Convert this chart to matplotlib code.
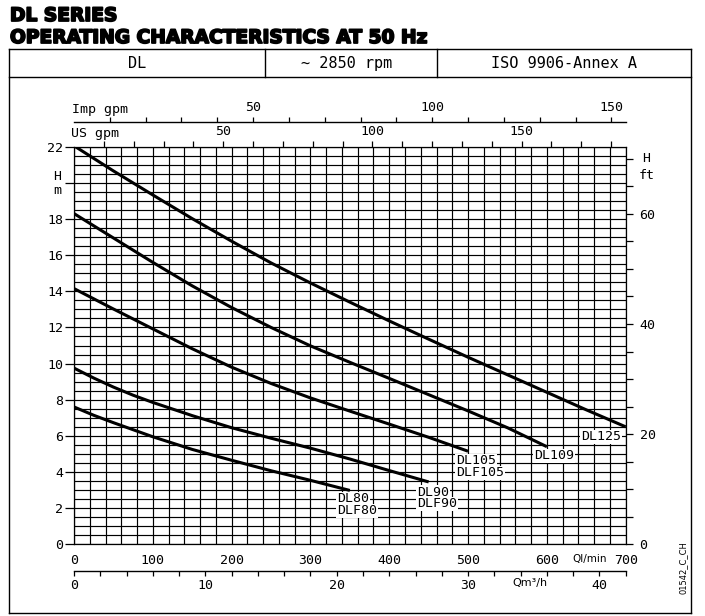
import numpy as np
import matplotlib
matplotlib.use("Agg")
import matplotlib.pyplot as plt
from matplotlib.ticker import FixedLocator, FuncFormatter
from matplotlib.lines import Line2D
import matplotlib.patheffects as pe

# ---------------- data ----------------
q_dl125 = [0, 50, 100, 150, 200, 250, 300, 350, 400, 450, 500, 550, 600, 650, 700]
h_dl125 = [22.05, 20.66, 19.33, 18.02, 16.77, 15.57, 14.46, 13.4, 12.36, 11.35, 10.35, 9.38, 8.41, 7.44, 6.5]

q_dl109 = [0, 50, 100, 150, 200, 250, 300, 350, 400, 450, 500, 550, 600]
h_dl109 = [18.3, 16.95, 15.6, 14.3, 13.1, 12.0, 10.98, 10.07, 9.18, 8.28, 7.38, 6.45, 5.4]

q_dl105 = [0, 50, 100, 150, 200, 250, 300, 350, 400, 450, 500]
h_dl105 = [14.15, 13.02, 11.92, 10.82, 9.8, 8.9, 8.1, 7.37, 6.65, 5.92, 5.15]

q_dl90 = [0, 25, 50, 75, 100, 150, 200, 250, 300, 350, 400, 450]
h_dl90 = [9.75, 9.2, 8.7, 8.25, 7.85, 7.12, 6.45, 5.87, 5.32, 4.72, 4.08, 3.45]

q_dl80 = [0, 25, 50, 100, 150, 200, 250, 300, 350]
h_dl80 = [7.6, 7.14, 6.73, 5.95, 5.25, 4.65, 4.07, 3.54, 2.98]

curve_labels = ["DL125", "DL109", ["DL105", "DLF105"], ["DL90", "DLF90"], ["DL80", "DLF80"]]

title_lines = ["DL SERIES", "OPERATING CHARACTERISTICS AT 50 Hz"]
header_texts = ["DL", "~ 2850 rpm", "ISO 9906-Annex A"]

ql_ticks = list(range(0, 701, 100))
h_ticks = list(range(0, 23, 2))
ft_ticks = list(range(0, 71, 5))
ft_labels = [0, 20, 40, 60]
usgpm_ticks = list(range(10, 181, 10))
impgpm_ticks = list(range(10, 151, 10))
gpm_labels = [50, 100, 150]
m3h_ticks = list(range(0, 43, 2))
m3h_labels = [0, 10, 20, 30, 40]

# unit conversions
US_GPM = 0.264172
IMP_GPM = 0.219969
M3H = 0.06
FT = 3.28084

# ---------------- figure ----------------
W, H = 705, 616
fig = plt.figure(figsize=(W / 100, H / 100), dpi=100)
fig.patch.set_facecolor("white")

def fx(px):
    return px / W

def fy(py):
    return 1 - py / H

MONO = "DejaVu Sans Mono"

L, R, T, B = 74, 625.7, 146.7, 544.3
ax = fig.add_axes([fx(L), fy(B), (R - L) / W, (B - T) / H])
ax.set_xlim(0, 700)
ax.set_ylim(0, 22)

# grid
ax.xaxis.set_major_locator(FixedLocator(ql_ticks))
ax.xaxis.set_minor_locator(FixedLocator(list(range(0, 701, 20))))
ax.yaxis.set_major_locator(FixedLocator(h_ticks))
ax.yaxis.set_minor_locator(FixedLocator(list(np.arange(0, 22.01, 0.5))))
ax.grid(True, which="both", color="black", lw=0.85)
ax.set_axisbelow(True)
for s in ax.spines.values():
    s.set_color("black")
    s.set_linewidth(0.9)

ax.tick_params(axis="x", which="both", length=0, pad=7.0, labelsize=9.5)
ax.tick_params(axis="y", which="major", length=6.5, width=0.9, pad=1.2, labelsize=9.5, direction="out")
ax.tick_params(axis="y", which="minor", length=0)
ax.xaxis.set_major_formatter(FuncFormatter(lambda v, p: f"{int(round(v))}"))
ax.yaxis.set_major_formatter(FuncFormatter(lambda v, p: "" if int(round(v)) == 20 else f"{int(round(v))}"))
for lab in ax.get_xticklabels() + ax.get_yticklabels():
    lab.set_fontfamily(MONO)

# curves
for q, h in [(q_dl125, h_dl125), (q_dl109, h_dl109), (q_dl105, h_dl105),
             (q_dl90, h_dl90), (q_dl80, h_dl80)]:
    ax.plot(q, h, color="black", lw=2.2, solid_capstyle="butt",
            solid_joinstyle="round", zorder=3)

# curve labels (left x in l/min, centre y in m)
label_pos = [(643.4, [5.94]), (583.8, [4.89]), (484.8, [4.61, 3.95]),
             (435.3, [2.89, 2.23]), (333.8, [2.51, 1.85])]
for labs, (lx, lys) in zip(curve_labels, label_pos):
    if isinstance(labs, str):
        labs = [labs]
    for s, ly in zip(labs, lys):
        ax.text(lx, ly, s, fontfamily=MONO, fontsize=9.5, ha="left", va="center",
                zorder=4, bbox=dict(facecolor="white", edgecolor="none", pad=0.6))

# right axis in ft
sec_r = ax.secondary_yaxis("right", functions=(lambda m: m * FT, lambda f: f / FT))
sec_r.yaxis.set_major_locator(FixedLocator(ft_ticks))
sec_r.yaxis.set_major_formatter(FuncFormatter(lambda v, p: f"{int(round(v))}" if int(round(v)) in ft_labels else ""))
sec_r.tick_params(length=5, width=0.9, pad=5, labelsize=9.5)
sec_r.spines["right"].set_visible(False)
for lab in sec_r.get_yticklabels():
    lab.set_fontfamily(MONO)

# top US gpm
sec_us = ax.secondary_xaxis("top", functions=(lambda x: x * US_GPM, lambda g: g / US_GPM))
sec_us.xaxis.set_major_locator(FixedLocator(usgpm_ticks))
sec_us.xaxis.set_major_formatter(FuncFormatter(lambda v, p: f"{int(round(v))}" if int(round(v)) in gpm_labels else ""))
sec_us.tick_params(length=4.3, width=0.9, pad=2.2, labelsize=9.5)
sec_us.spines["top"].set_visible(False)
for lab in sec_us.get_xticklabels():
    lab.set_fontfamily(MONO)

# top Imp gpm
imp_loc = 1 + (T - 121.7) / (B - T)
sec_imp = ax.secondary_xaxis(imp_loc, functions=(lambda x: x * IMP_GPM, lambda g: g / IMP_GPM))
sec_imp.xaxis.set_major_locator(FixedLocator(impgpm_ticks))
sec_imp.xaxis.set_major_formatter(FuncFormatter(lambda v, p: f"{int(round(v))}" if int(round(v)) in gpm_labels else ""))
sec_imp.tick_params(length=3.6, width=0.9, pad=2.0, labelsize=9.5)
for s in sec_imp.spines.values():
    s.set_linewidth(1.0)
for lab in sec_imp.get_xticklabels():
    lab.set_fontfamily(MONO)

# bottom m3/h
m3_loc = -(570.7 - B) / (B - T)
sec_m3 = ax.secondary_xaxis(m3_loc, functions=(lambda x: x * M3H, lambda m: m / M3H))
sec_m3.xaxis.set_major_locator(FixedLocator(m3h_ticks))
sec_m3.xaxis.set_major_formatter(FuncFormatter(lambda v, p: f"{int(round(v))}" if int(round(v)) in m3h_labels else ""))
sec_m3.tick_params(length=3.3, width=0.9, pad=3.0, labelsize=9.5)
for s in sec_m3.spines.values():
    s.set_linewidth(1.0)
for lab in sec_m3.get_xticklabels():
    lab.set_fontfamily(MONO)

# axis unit texts
def ftext(px, py, s, **kw):
    kw.setdefault("fontfamily", MONO)
    kw.setdefault("fontsize", 9.5)
    return fig.text(fx(px), fy(py), s, **kw)

ftext(72, 110, "Imp gpm", ha="left", va="center")
ftext(71, 133.3, "US gpm", ha="left", va="center")
ftext(57, 177, "H", ha="center", va="center")
ftext(57, 191, "m", ha="center", va="center")
ftext(646, 158.5, "H", ha="center", va="center")
ftext(647, 175, "ft", ha="center", va="center")
ftext(590, 559, "Ql/min", ha="center", va="center", fontfamily="DejaVu Sans", fontsize=7.5)
ftext(530, 583, "Qm³/h", ha="center", va="center", fontfamily="DejaVu Sans", fontsize=8)
ftext(683, 568, "01542_C_CH", ha="center", va="center", rotation=90,
      fontfamily="DejaVu Sans", fontsize=6)

# frame and header table
def fline(x0, y0, x1, y1, lw=1.0):
    fig.add_artist(Line2D([fx(x0), fx(x1)], [fy(y0), fy(y1)], color="black", lw=lw))

XL, XR, YT, YB, YH = 8.5, 691, 49, 613, 77.3
fline(XL, YT, XR, YT)
fline(XL, YB, XR, YB)
fline(XL, YT, XL, YB)
fline(XR, YT, XR, YB)
fline(XL, YH, XR, YH)
fline(265, YT, 265, YH)
fline(437, YT, 437, YH)

for s, cx in zip(header_texts, [137, 347, 564]):
    ftext(cx, 68, s, ha="center", va="baseline", fontsize=11)

# title (fit the second line to its width), thickened to look like a black weight
heavy = [pe.withStroke(linewidth=1.3, foreground="black")]
t2 = fig.text(fx(10), fy(43), title_lines[1], fontfamily="DejaVu Sans", fontweight="bold",
              fontsize=14, ha="left", va="baseline")
fig.canvas.draw()
w = t2.get_window_extent().width
size = 14 * 418 / w
t2.set_fontsize(size)
t2.set_path_effects(heavy)
fig.text(fx(10), fy(21), title_lines[0], fontfamily="DejaVu Sans", fontweight="bold",
         fontsize=size, ha="left", va="baseline", path_effects=heavy)

fig.savefig("out.png", dpi=100, facecolor="white")
